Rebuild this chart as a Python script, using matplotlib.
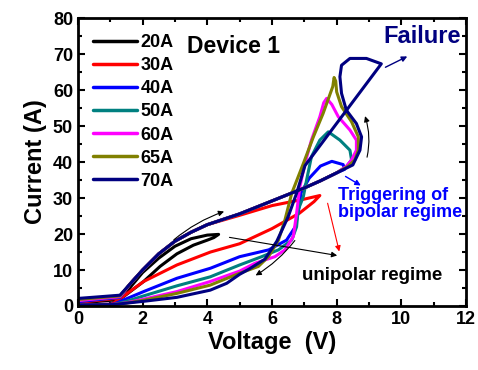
import matplotlib
matplotlib.use("Agg")
import matplotlib.pyplot as plt
from matplotlib.ticker import MultipleLocator

plt.rcParams['font.family'] = ['Liberation Sans', 'DejaVu Sans']
plt.rcParams['font.weight'] = 'bold'

labels = ['20A', '30A', '40A', '50A', '60A', '65A', '70A']
colors = ['#000000', '#FF0000', '#0000FF', '#008080', '#FF00FF', '#808000', '#000080']

# Upper (forward) branch shared by all sweeps
env_v = [1.6, 2.0, 2.5, 3.0, 3.5, 4.0, 5.0, 6.0, 7.0, 7.5, 8.0]
env_i = [6.0, 10.0, 14.5, 18.0, 20.5, 22.6, 25.6, 29.2, 32.8, 34.8, 37.0]

v20 = [0, 1.3, 1.6, 2.0, 2.5, 3.0, 3.5, 4.0, 4.35, 4.2, 4.0, 3.57, 3.06, 2.54, 2.03, 1.5, 1.2, 1.0, 0]
i20 = [0.8, 1.8, 5.0, 9.3, 13.3, 16.6, 18.7, 19.7, 19.9, 19.0, 18.3, 16.9, 14.5, 11.0, 6.8, 3.2, 1.2, 0.4, 0.3]

v30 = [0, 1.3] + env_v[:6] + [5.0, 6.0, 7.0, 7.48, 7.3, 6.85, 6.0, 5.0, 4.1, 3.06, 2.03, 1.6, 1.3, 1.05, 0]
i30 = [1.0, 2.2] + env_i[:6] + [25.2, 27.9, 29.7, 30.7, 29.0, 25.8, 21.5, 17.3, 15.0, 11.4, 6.8, 4.0, 2.0, 0.5, 0.3]

v40 = [0, 1.3] + env_v + [8.25, 8.2, 7.85, 7.5, 7.15, 6.9, 6.83, 6.72, 6.45, 5.9, 5.0, 4.1, 3.06, 2.03, 1.5, 1.1, 0]
i40 = [1.2, 2.4] + env_i + [38.0, 39.3, 40.2, 38.9, 35.5, 31.5, 27.0, 22.0, 18.3, 15.6, 13.7, 10.5, 7.7, 4.0, 2.0, 0.5, 0.3]

v50 = [0, 1.3] + env_v + [8.3, 8.46, 8.41, 8.1, 7.74, 7.48, 7.22, 7.07, 6.97, 6.81, 6.76, 6.61, 6.2, 5.68, 5.0, 4.09, 3.06, 2.03, 1.5, 1.1, 0]
i50 = [1.5, 2.6] + env_i + [38.7, 40.6, 43.3, 46.1, 48.4, 46.1, 41.5, 35.0, 30.4, 26.7, 22.0, 18.3, 15.6, 13.7, 11.4, 8.1, 5.6, 2.8, 1.3, 0.4, 0.3]

v60 = [0, 1.3] + env_v + [8.3, 8.46, 8.61, 8.61, 8.41, 8.05, 7.85, 7.69, 7.6, 7.48, 7.22, 7.02, 6.86, 6.76, 6.66, 6.4, 6.09, 5.48, 5.0, 4.09, 3.06, 2.03, 1.5, 1.1, 0]
i60 = [1.5, 2.6] + env_i + [38.8, 40.6, 43.3, 46.1, 48.9, 52.6, 56.0, 57.7, 56.5, 52.6, 46.1, 39.6, 33.1, 25.7, 19.3, 15.6, 13.7, 11.9, 9.7, 6.8, 4.0, 1.9, 0.9, 0.4, 0.3]

v65 = [0, 1.3] + env_v + [8.35, 8.56, 8.67, 8.67, 8.46, 8.15, 8.0, 7.97, 7.92, 7.88, 7.58, 7.28, 6.97, 6.61, 6.4, 6.2, 5.89, 5.58, 5.0, 4.09, 3.06, 2.03, 1.5, 1.1, 0]
i65 = [1.8, 2.8] + env_i + [38.8, 40.6, 43.3, 47.0, 51.2, 55.4, 59.5, 62.5, 63.5, 61.0, 53.5, 47.0, 39.6, 31.3, 23.9, 18.3, 13.7, 11.0, 9.1, 5.8, 3.5, 1.6, 0.8, 0.4, 0.3]

v70 = [0, 1.3] + env_v + [8.5, 8.72, 8.77, 8.61, 8.3, 8.15, 8.1, 8.15, 8.41, 8.92, 9.38, 7.02, 6.76, 6.5, 6.15, 5.78, 5.3, 5.0, 4.6, 4.09, 3.06, 2.03, 1.1, 0]
i70 = [2.1, 3.0] + env_i + [39.2, 43.3, 47.0, 50.7, 54.4, 59.1, 63.7, 66.9, 68.8, 68.8, 67.3, 39.0, 31.3, 24.8, 18.0, 13.0, 10.3, 8.8, 6.3, 4.4, 2.4, 1.3, 0.4, 0.3]

series_v = [v20, v30, v40, v50, v60, v65, v70]
series_i = [i20, i30, i40, i50, i60, i65, i70]

fig = plt.figure(figsize=(4.78, 3.70), dpi=100)
ax = fig.add_axes([0.163, 0.173, 0.812, 0.778])

for v, i, c, lab in zip(series_v, series_i, colors, labels):
    ax.plot(v, i, color=c, lw=2.2, label=lab, solid_joinstyle='round', solid_capstyle='round')

ax.set_xlim(0, 12)
ax.set_ylim(0, 80)
ax.xaxis.set_major_locator(MultipleLocator(2))
ax.xaxis.set_minor_locator(MultipleLocator(1))
ax.yaxis.set_major_locator(MultipleLocator(10))
ax.yaxis.set_minor_locator(MultipleLocator(5))
ax.tick_params(which='both', direction='in', top=True, right=True, width=1.5, labelsize=13)
ax.tick_params(which='major', length=5)
ax.tick_params(which='minor', length=3)
for s in ax.spines.values():
    s.set_linewidth(2)
for t in ax.get_xticklabels() + ax.get_yticklabels():
    t.set_fontweight('bold')

ax.set_xlabel('Voltage  (V)', fontsize=17, fontweight='bold', labelpad=2)
ax.set_ylabel('Current (A)', fontsize=17, fontweight='bold', labelpad=4)

leg = ax.legend(loc='upper left', bbox_to_anchor=(0.04, 0.945), frameon=False,
                fontsize=13, handlelength=2.4, handletextpad=0.2, labelspacing=0.34,
                borderaxespad=0, borderpad=0)
for t in leg.get_texts():
    t.set_fontweight('bold')
for h in leg.get_lines():
    h.set_linewidth(2.5)

ax.text(0.28, 0.90, 'Device 1', transform=ax.transAxes, fontsize=16.5, fontweight='bold', va='center')
ax.text(0.787, 0.937, 'Failure', transform=ax.transAxes, fontsize=17, fontweight='bold',
        color='#000080', va='center')
ax.text(0.67, 0.355, 'Triggering of\nbipolar regime', transform=ax.transAxes, fontsize=13,
        fontweight='bold', color='#0000FF', va='center', linespacing=1.0)
ax.text(0.578, 0.107, 'unipolar regime', transform=ax.transAxes, fontsize=13.5,
        fontweight='bold', color='black', va='center')

# arrows
ax.annotate('', xy=(10.26, 69.7), xytext=(9.43, 66.0),
            arrowprops=dict(arrowstyle='-|>', color='#000080', lw=1.0, mutation_scale=8))
ax.annotate('', xy=(8.82, 33.1), xytext=(8.2, 36.4),
            arrowprops=dict(arrowstyle='-|>', color='#0000FF', lw=1.0, mutation_scale=8))
ax.annotate('', xy=(8.1, 13.9), xytext=(4.6, 19.2),
            arrowprops=dict(arrowstyle='-|>', color='black', lw=0.8, mutation_scale=8))
ax.annotate('', xy=(8.1, 14.4), xytext=(7.7, 29.3),
            arrowprops=dict(arrowstyle='-|>', color='red', lw=0.8, mutation_scale=8))
ax.annotate('', xy=(4.6, 26.5), xytext=(2.9, 17.9),
            arrowprops=dict(arrowstyle='-|>', color='black', lw=0.8, mutation_scale=8,
                            connectionstyle='arc3,rad=-0.1'))
ax.annotate('', xy=(5.42, 8.1), xytext=(6.76, 18.8),
            arrowprops=dict(arrowstyle='-|>', color='black', lw=0.8, mutation_scale=8,
                            connectionstyle='arc3,rad=-0.1'))
ax.annotate('', xy=(8.85, 53.5), xytext=(8.92, 40.6),
            arrowprops=dict(arrowstyle='-|>', color='black', lw=0.8, mutation_scale=8,
                            connectionstyle='arc3,rad=0.15'))

fig.savefig('out.png', dpi=100)
